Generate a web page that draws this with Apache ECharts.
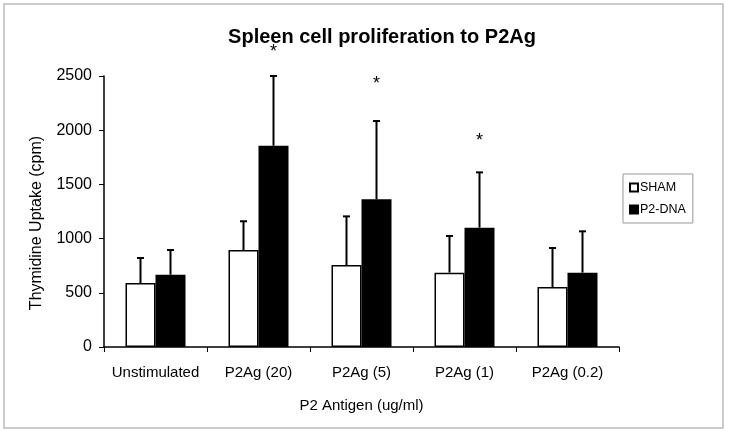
<!DOCTYPE html>
<html>
<head>
<meta charset="utf-8">
<script src="https://cdn.jsdelivr.net/npm/echarts@6/dist/echarts.min.js"></script>
<style>html,body{margin:0;padding:0;background:#fff}#c{width:729px;height:434px}</style>
</head>
<body>
<div id="c"></div>
<script>
var categories = ['Unstimulated', 'P2Ag (20)', 'P2Ag (5)', 'P2Ag (1)', 'P2Ag (0.2)'];
var shamMean = [590, 895, 756, 686, 553];
var shamErrTop = [821, 1160, 1205, 1024, 913];
var p2Mean = [667, 1857, 1362, 1101, 686];
var p2ErrTop = [895, 2500, 2085, 1611, 1067];
var starLevel = [null, 2720, 2430, 1900, null];
var yTicks = [0, 500, 1000, 1500, 2000, 2500];

var FONT = '"Liberation Sans", Arial, sans-serif';
var chart = echarts.init(document.getElementById('c'), null, {renderer: 'canvas'});
var BW = 30;

function errSeries(name, tops, offset) {
  var data = tops.map(function (v, i) { return [i, v, (offset < 0 ? shamMean : p2Mean)[i]]; });
  return {
    type: 'custom', name: name + '_err', silent: true, z: 5,
    data: data,
    renderItem: function (params, api) {
      var top = api.coord([api.value(0), api.value(1)]);
      var base = api.coord([api.value(0), api.value(2)]);
      var x = top[0] + offset * BW / 2;
      return {
        type: 'group', children: [
          {type: 'line', shape: {x1: x, y1: base[1], x2: x, y2: top[1]}, style: {stroke: '#000', lineWidth: 2}},
          {type: 'line', shape: {x1: x - 3.5, y1: top[1], x2: x + 3.5, y2: top[1]}, style: {stroke: '#000', lineWidth: 2}}
        ]
      };
    }
  };
}

var starData = [];
starLevel.forEach(function (v, i) { if (v != null) starData.push([i, v]); });

chart.setOption({
  animation: false,
  title: {
    text: 'Spleen cell proliferation to P2Ag',
    left: 377, top: 22, textAlign: 'center',
    textStyle: {fontFamily: FONT, fontWeight: 'bold', fontSize: 20, color: '#000'}
  },
  legend: {
    orient: 'vertical', left: 623, top: 174,
    data: ['SHAM', 'P2-DNA'],
    itemWidth: 8, itemHeight: 8, itemGap: 9,
    icon: 'rect',
    borderColor: '#999', borderWidth: 1, padding: [7, 7, 7, 6],
    textStyle: {fontFamily: FONT, fontSize: 12.5, color: '#000', padding: [0, 0, 0, -3]}
  },
  grid: {left: 104, right: 110, top: 76, bottom: 87, containLabel: false},
  xAxis: {
    type: 'category', data: categories,
    name: 'P2 Antigen (ug/ml)', nameLocation: 'middle', nameGap: 51,
    nameTextStyle: {fontFamily: FONT, fontSize: 15, color: '#000'},
    axisLine: {lineStyle: {color: '#000', width: 1.5}},
    axisTick: {show: true, length: 5, lineStyle: {color: '#000'}},
    axisLabel: {interval: 0, fontFamily: FONT, fontSize: 15, color: '#000', margin: 18}
  },
  yAxis: {
    type: 'value', min: 0, max: 2500, interval: 500,
    axisLine: {show: true, lineStyle: {color: '#000', width: 1.5}},
    axisTick: {show: true, length: 5, lineStyle: {color: '#000'}},
    splitLine: {show: false},
    axisLabel: {fontFamily: FONT, fontSize: 16, color: '#000', margin: 12,
      formatter: function (v) { return yTicks.indexOf(v) >= 0 ? String(v) : ''; }}
  },
  series: [
    {name: 'SHAM', type: 'bar', data: shamMean, barWidth: BW, barGap: '0%',
      itemStyle: {color: '#fff', borderColor: '#000', borderWidth: 1.5}},
    {name: 'P2-DNA', type: 'bar', data: p2Mean, barWidth: BW, barGap: '0%',
      itemStyle: {color: '#000', borderColor: '#000', borderWidth: 1.5}},
    errSeries('SHAM', shamErrTop, -1),
    errSeries('P2-DNA', p2ErrTop, 1),
    {
      type: 'custom', name: 'stars', silent: true, z: 6, clip: false,
      data: starData,
      renderItem: function (params, api) {
        var p = api.coord([api.value(0), api.value(1)]);
        return {type: 'text', x: p[0] + BW / 2, y: p[1],
          style: {text: '*', fontFamily: FONT, fontSize: 18, fill: '#000', align: 'center', verticalAlign: 'middle'}};
      }
    }
  ],
  graphic: [{
    type: 'rect', shape: {x: 4, y: 4, width: 719, height: 424},
    style: {fill: 'none', stroke: '#bbb', lineWidth: 1.5}, silent: true, z: -1
  }, {
    type: 'text', x: 37, y: 223, rotation: Math.PI / 2,
    style: {text: 'Thymidine Uptake (cpm)', fontFamily: FONT, fontSize: 16, fill: '#000', align: 'center', verticalAlign: 'middle'},
    silent: true
  }]
});
</script>
</body>
</html>
